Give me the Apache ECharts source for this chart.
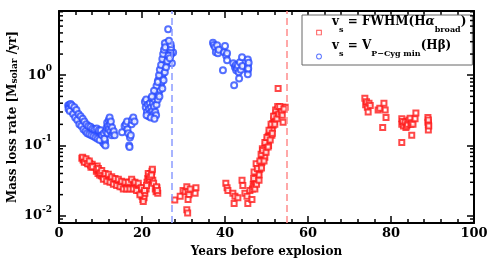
<!DOCTYPE html>
<html><head><meta charset="utf-8">
<script src="https://cdn.jsdelivr.net/npm/echarts@6/dist/echarts.min.js"></script>
<style>html,body{margin:0;padding:0;background:#fff}#c{width:491px;height:259px}</style>
</head><body><div id="c"></div>
<script>
// ---- data ----
const xTickValues = [0, 20, 40, 60, 80, 100];
const yMajorTicks = [0.01, 0.1, 1];
const yMinorTicks = [0.008, 0.009, 0.02, 0.03, 0.04, 0.05, 0.06, 0.07, 0.08, 0.09,
  0.2, 0.3, 0.4, 0.5, 0.6, 0.7, 0.8, 0.9, 2, 3, 4, 5, 6, 7, 8];
const redName = 'FWHM';
const blueName = 'PCyg';
const blueDashX = 27.2;
const redDashX = 54.8;

const blueData = [
  [2.2,0.37],[2.4,0.35],[2.5,0.38],[2.7,0.34],[2.9,0.36],[3.0,0.33],[3.2,0.31],[3.3,0.34],[3.5,0.30],[3.6,0.32],
  [3.8,0.29],[4.0,0.27],[4.1,0.30],[4.3,0.26],[4.5,0.27],[4.6,0.24],[4.8,0.25],[5.0,0.22],[5.1,0.24],[5.3,0.21],
  [5.5,0.22],[5.6,0.20],[5.8,0.21],[6.0,0.19],[6.2,0.20],[6.3,0.18],[6.5,0.185],[6.7,0.17],[6.9,0.18],[7.0,0.165],
  [7.2,0.17],[7.4,0.16],[7.5,0.175],[7.7,0.155],[7.9,0.165],[8.0,0.15],[8.2,0.16],[8.4,0.145],[8.5,0.155],[8.7,0.15],
  [8.9,0.14],[9.0,0.16],[9.2,0.145],[9.4,0.15],[9.5,0.135],[9.7,0.14],[9.9,0.155],[10.0,0.13],[10.2,0.145],[10.3,0.12],
  [10.5,0.135],[10.6,0.11],[10.7,0.125],[10.9,0.105],[11.0,0.14],[11.1,0.115],
  [2.3,0.33],[2.6,0.31],[2.8,0.39],[3.1,0.37],[3.4,0.28],[3.7,0.35],[3.9,0.25],[4.2,0.32],[4.4,0.23],[4.7,0.28],
  [4.9,0.2],[5.2,0.26],[5.4,0.19],[5.7,0.24],[5.9,0.17],[6.1,0.22],[6.4,0.16],[6.6,0.2],[6.8,0.15],[7.1,0.19],
  [7.3,0.145],[7.6,0.185],[7.8,0.14],[8.1,0.175],[8.3,0.135],[8.6,0.17],[8.8,0.13],[9.1,0.175],[9.3,0.125],[9.6,0.165],
  [9.8,0.12],[10.1,0.165],[10.4,0.14],[10.8,0.15],[11.2,0.1],[10.95,0.125],
  [11.3,0.16],[11.5,0.18],[11.6,0.21],[11.7,0.15],[11.8,0.19],[12.0,0.23],[12.0,0.17],[12.2,0.25],[12.3,0.2],[12.4,0.16],
  [12.5,0.22],[12.7,0.14],[12.8,0.18],[13.0,0.15],[13.2,0.16],[13.4,0.14],
  [15.2,0.155],[15.8,0.19],[16.1,0.2],[16.4,0.22],[16.5,0.17],[16.7,0.15],[16.9,0.10],[17.0,0.095],[17.1,0.13],[17.3,0.14],
  [17.5,0.2],[17.6,0.23],[17.9,0.25],[18.2,0.22],
  [20.7,0.42],[20.9,0.35],[21.0,0.45],[21.2,0.3],[21.4,0.38],[21.6,0.26],[21.7,0.33],[21.9,0.4],[22.0,0.29],[22.2,0.35],
  [22.3,0.47],[22.5,0.31],[22.6,0.4],[22.8,0.28],[22.9,0.36],[23.0,0.45],[23.2,0.3],[23.4,0.27],[23.5,0.38],[23.3,0.55],
  [23.6,0.5],[23.7,0.6],[23.8,0.45],[24.0,0.7],[24.0,0.55],[24.2,0.8],[24.3,0.62],[24.4,0.9],[24.5,0.72],[24.6,1.0],
  [24.7,0.8],[24.8,1.15],[24.9,0.92],[25.0,1.3],[25.0,1.05],[25.2,1.45],[25.2,1.2],[25.4,1.6],[25.4,1.35],[25.5,1.8],
  [25.6,1.5],[25.7,2.0],[25.8,1.7],[25.9,2.2],[26.0,1.9],[26.1,2.4],[26.2,2.1],[26.3,2.6],[26.4,2.3],[26.5,2.8],
  [26.6,2.5],[26.7,2.2],[26.8,2.6],[25.9,2.7],[26.0,2.9],[26.3,4.5],[27.2,1.48],[27.5,2.1],[27.0,2.0],[24.2,0.5],
  [23.9,0.85],[26.9,2.3],[26.8,1.9],[25.5,2.85],
  [23.5,0.7],[23.8,0.8],[24.1,1.0],[24.3,1.2],[24.6,1.4],[24.9,1.7],[25.1,2.0],[25.3,2.3],[25.6,2.5],[24.9,0.65],
  [25.2,0.85],[25.5,1.1],[25.8,1.3],[26.1,1.6],[26.4,1.9],[26.7,1.75],[27.0,2.5],[26.9,2.75],[26.5,3.1],[22.9,0.6],
  [22.4,0.5],[21.1,0.27],[22.1,0.25],[23.0,0.24],
  [37.1,2.9],[37.3,2.7],[37.6,2.5],[37.8,2.12],[38.1,2.66],[38.3,2.05],[38.5,2.3],[39.5,1.18],[39.8,2.12],[40.0,2.6],
  [40.3,1.9],[40.5,2.05],[40.5,1.63],[42.0,1.48],[42.2,0.72],[42.4,1.3],[42.6,1.4],[42.7,1.18],[42.9,1.26],[43.1,1.38],
  [43.3,1.1],[43.4,0.9],[43.6,1.53],[43.8,1.2],[44.1,1.8],[44.2,1.35],[45.5,1.68],[45.5,1.38],[45.5,1.18],[45.5,1.03],
  [45.7,1.5],[45.6,1.25]
];

const redData = [
  [5.5,0.066],[5.8,0.062],[6.0,0.064],[6.2,0.060],[6.4,0.062],[6.6,0.058],[6.8,0.060],[7.0,0.057],[7.2,0.055],[7.4,0.056],
  [7.6,0.053],[7.8,0.052],[8.0,0.054],[8.3,0.05],[8.6,0.05],[9.0,0.043],[9.2,0.051],[9.4,0.04],[9.6,0.044],[9.8,0.038],
  [10.0,0.042],[10.2,0.037],[10.4,0.040],[10.6,0.036],[10.8,0.038],[11.0,0.034],[11.2,0.037],[11.4,0.035],[11.6,0.033],[11.8,0.036],
  [12.0,0.032],[12.2,0.035],[12.4,0.033],[12.6,0.031],[12.8,0.034],[13.0,0.030],[13.2,0.032],[13.4,0.029],[13.6,0.031],[13.8,0.03],
  [14.0,0.028],[14.2,0.031],[14.4,0.029],[14.6,0.027],[14.8,0.03],[15.0,0.028],[15.2,0.026],[15.4,0.029],[15.6,0.027],[15.8,0.025],
  [16.0,0.028],[16.2,0.026],[16.4,0.029],[16.6,0.025],[16.8,0.027],[17.0,0.03],[17.2,0.026],[17.4,0.028],[17.6,0.031],[17.8,0.027],
  [18.0,0.029],[18.2,0.025],[18.4,0.028],[18.6,0.026],[18.8,0.024],[19.0,0.027],[19.2,0.023],[19.4,0.025],[19.6,0.021],[19.8,0.023],
  [20.0,0.019],[20.1,0.022],[20.2,0.017],[20.4,0.02],[20.5,0.018],[20.7,0.021],[21.0,0.024],[21.2,0.03],[21.4,0.034],[21.6,0.037],
  [21.8,0.033],[22.0,0.040],[22.2,0.036],[22.4,0.043],[22.6,0.032],[22.8,0.029],[23.2,0.024],[23.4,0.022],[23.6,0.025],[23.8,0.021],
  [5.7,0.068],[6.1,0.058],[6.5,0.065],[6.9,0.055],[7.3,0.06],[7.7,0.049],[8.1,0.05],[9.1,0.046],[9.5,0.047],[9.9,0.041],
  [10.3,0.044],[10.7,0.033],[11.1,0.04],[11.5,0.031],[11.9,0.039],[12.3,0.03],[12.7,0.036],[13.1,0.028],[13.5,0.034],[13.9,0.027],
  [14.3,0.033],[14.7,0.026],[15.1,0.031],[15.5,0.024],[15.9,0.03],[16.3,0.024],[16.7,0.03],[17.1,0.024],[17.5,0.033],[17.9,0.024],
  [18.3,0.03],[18.7,0.023],[19.1,0.029],[19.5,0.02],[19.9,0.025],[20.3,0.016],[20.6,0.023],[21.1,0.027],[21.5,0.04],[21.9,0.036],
  [22.3,0.038],[22.5,0.046],[23.5,0.026],[23.7,0.023],
  [27.9,0.0168],[29.2,0.019],[29.9,0.023],[30.4,0.022],[30.8,0.026],[31.1,0.022],[31.3,0.02],[31.1,0.017],[30.8,0.0122],[31.0,0.011],
  [33.0,0.025],[32.8,0.021],[31.6,0.024],
  [40.2,0.029],[40.5,0.025],[40.7,0.023],[41.9,0.021],[42.4,0.019],[42.2,0.015],[43.1,0.018],[44.1,0.032],[44.3,0.027],[44.8,0.021],
  [45.3,0.019],[45.5,0.015],[46.5,0.017],[46.0,0.023],
  [46.6,0.024],[46.8,0.028],[47.0,0.026],[47.1,0.032],[47.3,0.03],[47.4,0.036],[47.6,0.033],[47.7,0.04],[47.9,0.037],[48.0,0.045],
  [48.1,0.041],[48.3,0.05],[48.4,0.046],[48.5,0.056],[48.6,0.052],[48.8,0.062],[48.9,0.058],[49.0,0.07],[49.1,0.065],[49.2,0.078],
  [49.3,0.073],[49.4,0.088],[49.5,0.082],[49.7,0.098],[49.8,0.092],[49.9,0.11],[50.0,0.104],[50.2,0.12],[50.3,0.115],[50.4,0.135],
  [50.6,0.128],[50.7,0.15],[50.8,0.142],[51.0,0.165],[51.1,0.158],[51.2,0.185],[51.4,0.175],[51.5,0.205],[51.6,0.195],[51.8,0.23],
  [51.9,0.22],[52.0,0.26],[52.2,0.25],[52.3,0.29],[52.5,0.28],[52.6,0.32],[52.8,0.3],[52.9,0.34],[53.1,0.33],[53.3,0.31],
  [53.5,0.34],[53.7,0.32],[53.9,0.35],[54.0,0.215],[54.5,0.35],[52.8,0.65],[47.5,0.055],[48.2,0.038],[49.0,0.09],[49.6,0.068],
  [50.5,0.1],[51.3,0.14],[47.0,0.042],[48.7,0.075],
  [46.9,0.034],[47.2,0.024],[47.6,0.028],[47.8,0.047],[48.2,0.032],[48.4,0.06],[48.8,0.048],[49.1,0.085],[49.4,0.06],[49.6,0.11],
  [49.9,0.08],[50.1,0.13],[50.4,0.095],[50.6,0.165],[50.9,0.12],[51.1,0.2],[51.4,0.15],[51.7,0.26],[52.0,0.2],[52.2,0.32],
  [52.5,0.24],[52.7,0.36],[53.0,0.28],[53.2,0.36],[53.6,0.3],[53.8,0.27],[54.2,0.33],
  [73.7,0.47],[73.9,0.38],[74.1,0.42],[74.3,0.35],[74.5,0.3],[74.7,0.4],[75.0,0.37],[76.9,0.32],[77.3,0.34],[78.3,0.4],
  [78.6,0.32],[78.8,0.25],[78.0,0.18],[82.6,0.24],[82.6,0.2],[82.6,0.11],[82.8,0.22],[83.0,0.19],[83.4,0.215],[83.6,0.18],
  [83.8,0.19],[84.0,0.2],[84.3,0.23],[84.6,0.245],[84.8,0.2],[85.0,0.21],[85.0,0.14],[85.3,0.2],[85.8,0.24],[86.0,0.29],
  [88.9,0.25],[88.9,0.215],[89.0,0.2],[89.0,0.166],[89.0,0.23],[89.1,0.19]
];

// ---- chart ----
const FONT = 'DejaVu Serif';
const chart = echarts.init(document.getElementById('c'), null, {renderer: 'canvas'});
const axisLineStyle = {color: '#000', width: 2};
const baseX = {
  type: 'value', min: xTickValues[0], max: xTickValues[xTickValues.length - 1],
  interval: xTickValues[1] - xTickValues[0],
  axisLine: {show: true, onZero: false, lineStyle: axisLineStyle},
  axisTick: {show: true, inside: true, length: 7, lineStyle: {color: '#000', width: 1.5}},
  minorTick: {show: true, splitNumber: 5, length: 4, lineStyle: {color: '#000', width: 1.5}},
  splitLine: {show: false}, minorSplitLine: {show: false}
};
const baseY = {
  type: 'log', logBase: 10, min: 0.0079, max: 8.2,
  axisLine: {show: true, onZero: false, lineStyle: axisLineStyle},
  axisTick: {show: true, inside: true, length: 7, lineStyle: {color: '#000', width: 1.5}},
  splitLine: {show: false}
};
const isMajor = v => yMajorTicks.some(t => Math.abs(Math.log10(v) - Math.log10(t)) < 1e-6);
const minorTickSeries = (xv, off) => ({
  type: 'scatter', silent: true, clip: false, z: 10, xAxisIndex: 0, yAxisIndex: 0,
  data: yMinorTicks.map(v => [xv, v]),
  symbol: 'rect', symbolSize: [4, 1.5], symbolOffset: [off, 0],
  itemStyle: {color: '#000', opacity: 1}, emphasis: {disabled: true}
});
// legend icons: hollow marker drawn in the lower part of a 6x19 icon box
const redIcon = 'path://M0 0L6 0M0 19L6 19M0.25 13.3L5.75 13.3L5.75 18.8L0.25 18.8ZM1.15 14.2L1.15 17.9L4.85 17.9L4.85 14.2Z';
const blueIcon = 'path://M0 0L6 0M0 19L6 19M0.1 16A2.9 2.9 0 1 0 5.9 16A2.9 2.9 0 1 0 0.1 16ZM1.05 16A1.95 1.95 0 1 1 4.95 16A1.95 1.95 0 1 1 1.05 16Z';

chart.setOption({
  animation: false,
  backgroundColor: '#fff',
  grid: {left: 59, right: 17, top: 11, bottom: 36, containLabel: false, outerBoundsMode: 'none'},
  xAxis: [
    Object.assign({}, baseX, {
      position: 'bottom',
      name: 'Years before explosion', nameLocation: 'middle', nameGap: 23, nameMoveOverlap: false,
      nameTextStyle: {fontFamily: FONT, fontWeight: 'bold', fontSize: 12, color: '#000'},
      axisLabel: {show: true, margin: 4, fontFamily: FONT, fontWeight: 'bold', fontSize: 13, color: '#000'}
    }),
    Object.assign({}, baseX, {position: 'top', axisLabel: {show: false}})
  ],
  yAxis: [
    Object.assign({}, baseY, {
      position: 'left',
      name: 'Mass loss rate [M{s|solar} /yr]', nameLocation: 'middle', nameGap: 40, nameRotate: 90,
      nameMoveOverlap: false,
      nameTextStyle: {fontFamily: FONT, fontWeight: 'bold', fontSize: 12, color: '#000',
        rich: {s: {fontFamily: FONT, fontWeight: 'bold', fontSize: 9, verticalAlign: 'bottom', lineHeight: 9, padding: [6,0,0,0]}}},
      axisLabel: {
        show: true, margin: 7, showMinLabel: false, showMaxLabel: false,
        formatter: v => isMajor(v) ? '{b|10}{p|' + Math.round(Math.log10(v)) + '}' : '',
        rich: {
          b: {fontFamily: FONT, fontWeight: 'bold', fontSize: 13, color: '#000', lineHeight: 22, verticalAlign: 'middle'},
          p: {fontFamily: FONT, fontWeight: 'bold', fontSize: 9, color: '#000', lineHeight: 9, verticalAlign: 'top'}
        }
      }
    }),
    Object.assign({}, baseY, {position: 'right', axisLabel: {show: false}})
  ],
  legend: {
    left: 302, top: 15, orient: 'vertical',
    padding: [1, 6, 5, 14], itemGap: 4, itemWidth: 6, itemHeight: 19,
    backgroundColor: '#fff', borderColor: '#666', borderWidth: 1,
    itemStyle: {borderWidth: 0},
    data: [{name: redName, icon: redIcon}, {name: blueName, icon: blueIcon}],
    formatter: n => n === redName
      ? '{b|v}{s|s}{b| = FWHM(H}{g|α}{s|broad}{b|)}'
      : '{b|v}{s|s}{b| = V}{s|P−Cyg min}{b|(Hβ)}',
    textStyle: {
      fontFamily: FONT, fontWeight: 'bold', fontSize: 12, color: '#000', padding: [0,0,0,5],
      rich: {
        b: {fontFamily: FONT, fontWeight: 'bold', fontSize: 12, color: '#000', lineHeight: 14, verticalAlign: 'middle', padding: [0,0,8,0]},
        g: {fontFamily: FONT, fontStyle: 'italic', fontWeight: 'bold', fontSize: 12, color: '#000', lineHeight: 14, verticalAlign: 'middle', padding: [0,0,8,0]},
        s: {fontFamily: FONT, fontWeight: 'bold', fontSize: 8, color: '#000', lineHeight: 8, verticalAlign: 'middle', padding: [8,0,0,0]}
      }
    }
  },
  series: [
    {
      name: blueName, type: 'scatter', data: blueData, xAxisIndex: 0, yAxisIndex: 0,
      symbol: 'emptyCircle', symbolSize: 6,
      itemStyle: {color: '#2a4cff', borderColor: '#2a4cff', borderWidth: 0.8, opacity: 0.8},
      markLine: {
        silent: true, symbol: ['none', 'none'], label: {show: false},
        lineStyle: {color: '#8c9cff', width: 1.5, type: [7, 4]},
        data: [{xAxis: blueDashX}]
      }
    },
    {
      name: redName, type: 'scatter', data: redData, xAxisIndex: 0, yAxisIndex: 0,
      symbol: 'emptyRect', symbolSize: 5,
      itemStyle: {color: '#ff1a1a', borderColor: '#ff1a1a', borderWidth: 0.8, opacity: 0.8},
      markLine: {
        silent: true, symbol: ['none', 'none'], label: {show: false},
        lineStyle: {color: '#ff8c8c', width: 1.5, type: [7, 4]},
        data: [{xAxis: redDashX}]
      }
    },
    minorTickSeries(xTickValues[0], 2),
    minorTickSeries(xTickValues[xTickValues.length - 1], -2)
  ]
});
</script>
</body></html>
